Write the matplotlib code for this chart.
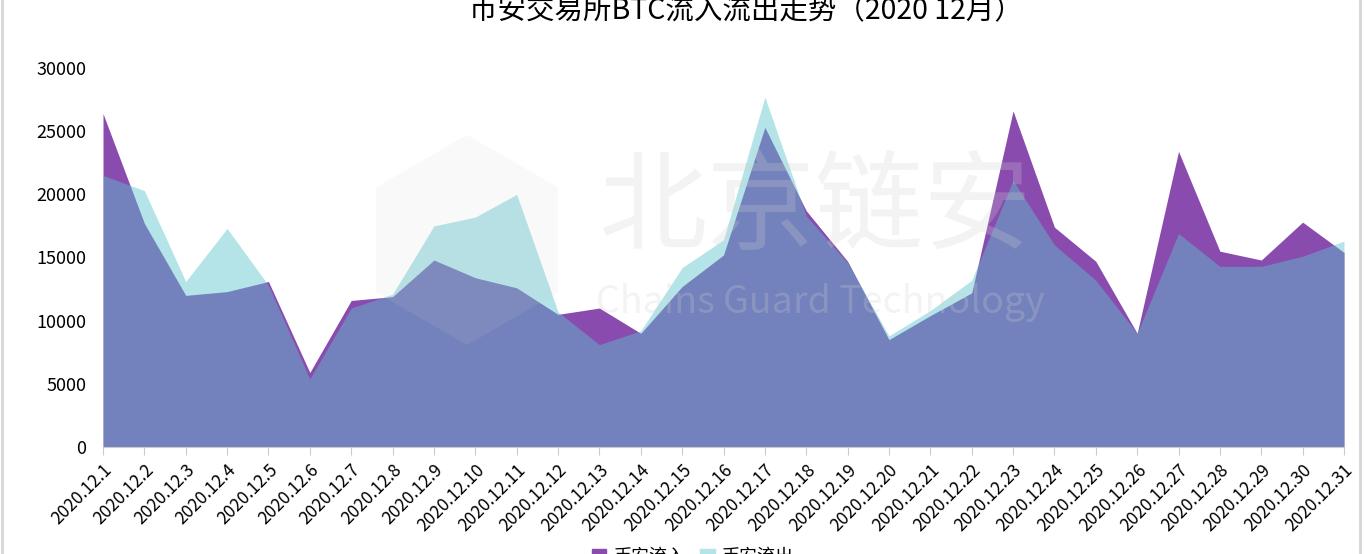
import matplotlib.pyplot as plt
import numpy as np
from matplotlib.patches import RegularPolygon, Patch
from matplotlib.lines import Line2D

plt.rcParams['font.family'] = ['Noto Sans CJK SC', 'DejaVu Sans']

# 2020年12月 每日数据
dates = ['2020.12.%d' % d for d in range(1, 32)]
inflow = [26400, 17700, 12000, 12300, 13100, 5900, 11600, 11900, 14800, 13400,
          12600, 10500, 11000, 9000, 12700, 15200, 25300, 18700, 14700, 8500,
          10400, 12200, 26600, 17400, 14700, 9000, 23400, 15500, 14800, 17800,
          15400]
outflow = [21500, 20300, 13100, 17300, 12800, 5400, 11000, 12100, 17500, 18200,
           20000, 10700, 8100, 9200, 14200, 16400, 27700, 18300, 14600, 8800,
           10800, 13200, 21100, 16000, 13200, 9000, 16900, 14300, 14300, 15100,
           16300]
yticks = [0, 5000, 10000, 15000, 20000, 25000, 30000]

purple = '#8a4baf'
cyan = '#59c3cc'

fig = plt.figure(figsize=(13.64, 5.54), dpi=100)
ax = fig.add_axes([103 / 1364, 107 / 554, 1241 / 1364, 379 / 554])

x = np.arange(len(dates))
ax.fill_between(x, 0, inflow, color=purple, lw=0, zorder=1)
ax.fill_between(x, 0, outflow, color=cyan, alpha=0.45, lw=0, zorder=2)

ax.set_xlim(0, len(dates) - 1)
ax.set_ylim(0, 30000)
ax.set_yticks(yticks)
ax.set_yticklabels([str(v) for v in yticks], fontsize=13)
ax.set_xticks(x)
ax.set_xticklabels(dates, rotation=45, ha='right', rotation_mode='anchor', fontsize=12.5)
ax.tick_params(axis='y', length=0, pad=12)
ax.tick_params(axis='x', length=6, color='#cccccc', pad=4)
for s in ['top', 'right', 'left']:
    ax.spines[s].set_visible(False)
ax.spines['bottom'].set_color('#cccccc')

# 水印
wm = dict(color='#d0d0d0', alpha=0.25, zorder=5, transform=fig.transFigure)
fig.text(815 / 1364, 1 - 210 / 554, '北京链安', fontsize=78, ha='center', va='center', **wm)
fig.text(820 / 1364, 1 - 302 / 554, 'Chains Guard Technology', fontsize=27, ha='center', va='center', **wm)
fig.patches.append(RegularPolygon((4.67, 3.14), 6, radius=1.05, orientation=0,
                                  transform=fig.dpi_scale_trans,
                                  facecolor='#d0d0d0', alpha=0.12, lw=0, zorder=5))

fig.text(746 / 1364, 1 - 11 / 554, '币安交易所BTC流入流出走势（2020 12月）', fontsize=20.5,
         ha='center', va='center')

handles = [Patch(color=purple, label='币安流入'), Patch(color='#b4e4e8', label='币安流出')]
fig.legend(handles=handles, loc='upper center', bbox_to_anchor=(0.508, 0.04), ncol=2,
           frameon=False, fontsize=13, handlelength=0.8, handleheight=0.8,
           handletextpad=0.4, columnspacing=0.8)

# 外框
fig.add_artist(Line2D([2 / 1364, 2 / 1364], [0, 1], color='#d6d6d6', lw=2, transform=fig.transFigure))
fig.add_artist(Line2D([1360 / 1364, 1360 / 1364], [0, 1], color='#d6d6d6', lw=2, transform=fig.transFigure))

fig.savefig('out.png', dpi=100)
